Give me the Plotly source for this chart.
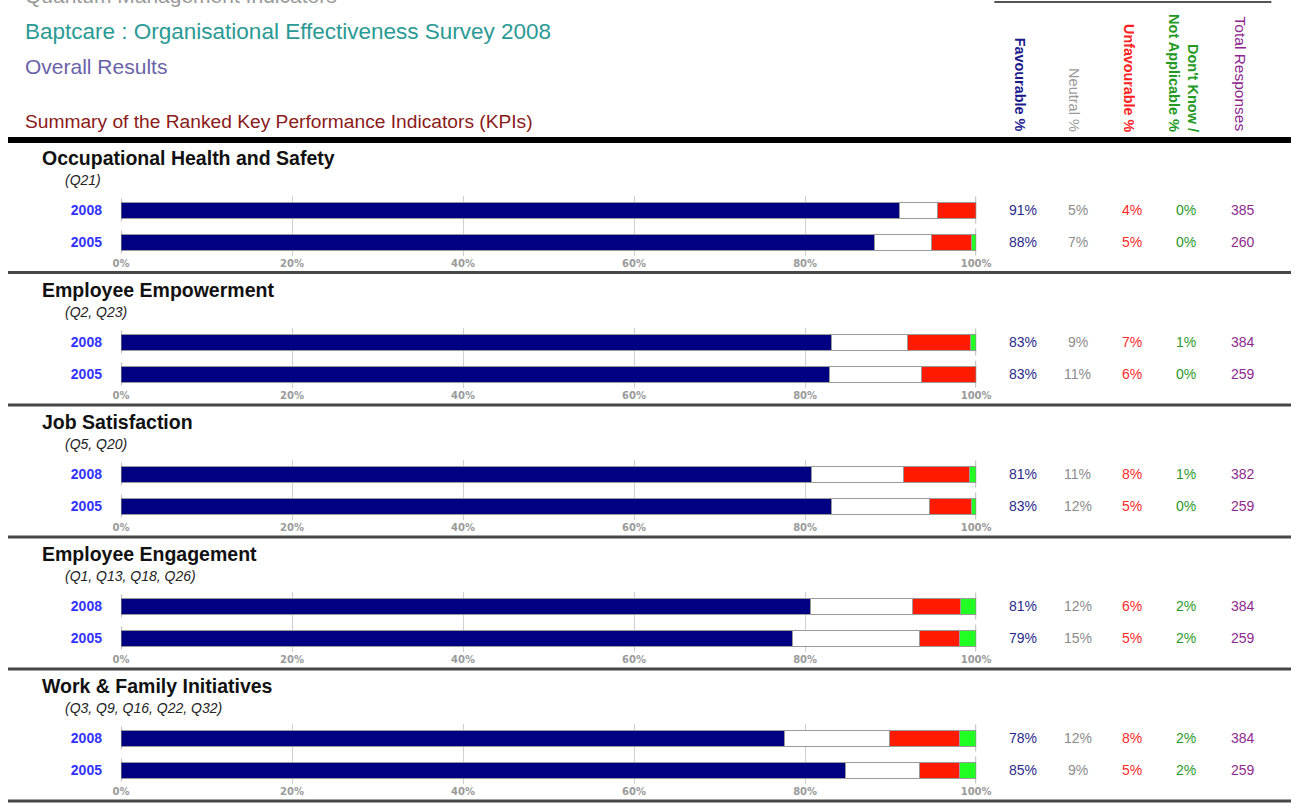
import plotly.graph_objects as go

# ---------------- data ----------------
kpis = ["Occupational Health and Safety", "Employee Empowerment", "Job Satisfaction",
        "Employee Engagement", "Work & Family Initiatives"]
questions = ["(Q21)", "(Q2, Q23)", "(Q5, Q20)", "(Q1, Q13, Q18, Q26)", "(Q3, Q9, Q16, Q22, Q32)"]
years = ["2008", "2005"]
tick_vals = [0, 20, 40, 60, 80, 100]
tick_text = ["0%", "20%", "40%", "60%", "80%", "100%"]

# bar lengths (percent), per KPI: [2008, 2005]
fav_bar = [[91.0, 88.1], [83.1, 82.8], [80.8, 83.1], [80.6, 78.5], [77.6, 84.7]]
neu_bar = [[4.5, 6.7], [8.9, 10.8], [10.7, 11.5], [11.9, 14.9], [12.3, 8.7]]
unf_bar = [[4.5, 4.7], [7.3, 6.4], [7.7, 4.9], [5.7, 4.6], [8.2, 4.7]]
dk_bar = [[0.0, 0.5], [0.7, 0.0], [0.8, 0.5], [1.8, 2.0], [1.9, 1.9]]

# printed figures, per KPI: [2008, 2005]
fav_lbl = [["91%", "88%"], ["83%", "83%"], ["81%", "83%"], ["81%", "79%"], ["78%", "85%"]]
neu_lbl = [["5%", "7%"], ["9%", "11%"], ["11%", "12%"], ["12%", "15%"], ["12%", "9%"]]
unf_lbl = [["4%", "5%"], ["7%", "6%"], ["8%", "5%"], ["6%", "5%"], ["8%", "5%"]]
dk_lbl = [["0%", "0%"], ["1%", "0%"], ["1%", "0%"], ["2%", "2%"], ["2%", "2%"]]
total_lbl = [["385", "260"], ["384", "259"], ["382", "259"], ["384", "259"], ["384", "259"]]

# ---------------- geometry helpers ----------------
W, H = 1306, 808
def PX(p):
    return p / W
def PY(p):
    return 1 - p / H

ARIAL = "Liberation Sans, Arial, sans-serif"
C_FAV, C_NEU, C_UNF, C_DK = "#000080", "#ffffff", "#ff1a00", "#22ff22"
C_FAV_T, C_NEU_T, C_UNF_T, C_DK_T, C_TOT_T = "#2a2a8a", "#8c8c8c", "#ff2a2a", "#2a9a2a", "#8e2a8e"

bar08_center = [210, 342, 474, 606, 738]
pitch = 32
x_left, x_right = 115, 985.5
col_x = [1033.5, 1089, 1144, 1199, 1257]

fig = go.Figure()
shapes = []
annotations = []

series = [(fav_bar, C_FAV), (neu_bar, C_NEU), (unf_bar, C_UNF), (dk_bar, C_DK)]
labels = [(fav_lbl, C_FAV_T), (neu_lbl, C_NEU_T), (unf_lbl, C_UNF_T), (dk_lbl, C_DK_T), (total_lbl, C_TOT_T)]

layout_axes = {}
for i in range(5):
    sfx = "" if i == 0 else str(i + 1)
    xa, ya = "x" + sfx, "y" + sfx
    for vals, col in series:
        fig.add_trace(go.Bar(
            y=years, x=vals[i], orientation="h",
            marker=dict(color=col, line=dict(color="#9a9a9a", width=1)),
            xaxis=xa, yaxis=ya, showlegend=False, hoverinfo="skip"))
    top = bar08_center[i] - 14
    bot = bar08_center[i] + pitch + 14
    layout_axes["xaxis" + sfx] = dict(
        domain=[PX(x_left), PX(x_right)], range=[0, 100], anchor=ya,
        tickvals=tick_vals, ticktext=tick_text, ticks="",
        showgrid=True, gridcolor="#cfcfcf", gridwidth=1, zeroline=False, showline=False,
        tickfont=dict(family="DejaVu Sans, sans-serif", size=10, color="#9a9a9a", weight="bold"),
        fixedrange=True)
    layout_axes["yaxis" + sfx] = dict(
        domain=[PY(bot), PY(top)], range=[1.4375, -0.4375], anchor=xa,
        type="category", categoryorder="array", categoryarray=years,
        showgrid=False, zeroline=False, showline=False, ticks="",
        ticklabelstandoff=18,
        tickfont=dict(family=ARIAL, size=14, color="#3333ff", weight="bold"),
        fixedrange=True)
    # bracket at 0% and end line at 100% for each bar
    for k in range(2):
        for (x0, y0, x1, y1) in [(-0.6, k - 0.36, 0, k - 0.36), (0, k - 0.36, 0, k + 0.36),
                                 (-0.6, k + 0.36, 0, k + 0.36), (100, k - 0.42, 100, k + 0.42)]:
            shapes.append(dict(type="line", xref=xa, yref=ya, x0=x0, y0=y0, x1=x1, y1=y1,
                               line=dict(color="#8a8a8a", width=1.2)))
    # section title and question list
    annotations.append(dict(text="<b>" + kpis[i] + "</b>", xref="paper", yref="paper",
                            x=PX(33), y=PY(bar08_center[i] - 52), xanchor="left", yanchor="middle",
                            showarrow=False, font=dict(family=ARIAL, size=19.5, color="#111111")))
    annotations.append(dict(text="<i>" + questions[i] + "</i>", xref="paper", yref="paper",
                            x=PX(56), y=PY(bar08_center[i] - 30), xanchor="left", yanchor="middle",
                            showarrow=False, font=dict(family=ARIAL, size=14, color="#222222")))
    # figures on the right (y given as category index: 0 = 2008, 1 = 2005)
    for (lbl, col), cx in zip(labels, col_x):
        for k in range(len(years)):
            annotations.append(dict(text=lbl[i][k], xref="paper", yref=ya, x=PX(cx), y=k,
                                    xanchor="center", yanchor="middle", showarrow=False,
                                    font=dict(family=ARIAL, size=14, color=col)))

# section separators
for yy in [272.5, 405, 537, 669, 801]:
    shapes.append(dict(type="line", xref="paper", yref="paper", x0=0, x1=1, y0=PY(yy), y1=PY(yy),
                       line=dict(color="#474747", width=3)))
# thick header rule
shapes.append(dict(type="line", xref="paper", yref="paper", x0=0, x1=1, y0=PY(140), y1=PY(140),
                   line=dict(color="#000000", width=6)))
# small rule at very top
shapes.append(dict(type="line", xref="paper", yref="paper", x0=PX(1004), x1=PX(1286), y0=PY(2), y1=PY(2),
                   line=dict(color="#555555", width=2)))

head = [
    dict(text="Quantum Management Indicators", x=PX(15), y=PY(9), xanchor="left", yanchor="bottom",
         font=dict(family=ARIAL, size=21, color="#9a9a9a")),
    dict(text="Baptcare : Organisational Effectiveness Survey 2008", x=PX(15), y=PY(31),
         xanchor="left", yanchor="middle", font=dict(family=ARIAL, size=22.5, color="#2a9a94")),
    dict(text="Overall Results", x=PX(15), y=PY(67), xanchor="left", yanchor="middle",
         font=dict(family=ARIAL, size=21, color="#6a62a8")),
    dict(text="Summary of the Ranked Key Performance Indicators (KPIs)", x=PX(15), y=PY(121),
         xanchor="left", yanchor="middle", font=dict(family=ARIAL, size=19.2, color="#8b1a1a")),
    dict(text="<b>Favourable %</b>", x=PX(col_x[0] - 3), y=PY(134), xanchor="center", yanchor="bottom",
         textangle=90, font=dict(family=ARIAL, size=14.4, color="#1a1a8c")),
    dict(text="Neutral %", x=PX(col_x[1] - 4), y=PY(134), xanchor="center", yanchor="bottom",
         textangle=90, font=dict(family=ARIAL, size=14.5, color="#9a9a9a")),
    dict(text="<b>Unfavourable %</b>", x=PX(col_x[2] - 3), y=PY(134), xanchor="center", yanchor="bottom",
         textangle=90, font=dict(family=ARIAL, size=14.3, color="#ff2020")),
    dict(text="<b>Don't Know /<br>Not Applicable %</b>", x=PX(col_x[3] - 2), y=PY(134), xanchor="center",
         yanchor="bottom", align="right", textangle=90,
         font=dict(family=ARIAL, size=14.5, color="#229922")),
    dict(text="Total Responses", x=PX(col_x[4] - 2), y=PY(134), xanchor="center", yanchor="bottom",
         textangle=90, font=dict(family=ARIAL, size=15.5, color="#8b258b")),
]
for a in head:
    a.update(xref="paper", yref="paper", showarrow=False)
annotations += head

fig.update_layout(
    width=W, height=H, margin=dict(l=0, r=0, t=0, b=0),
    paper_bgcolor="white", plot_bgcolor="white",
    barmode="stack", bargap=0.5, showlegend=False,
    shapes=shapes, annotations=annotations, **layout_axes)

fig.write_html("out.html", config={"displayModeBar": False},
               post_script="document.body.style.margin='0';document.body.style.overflow='hidden';")
